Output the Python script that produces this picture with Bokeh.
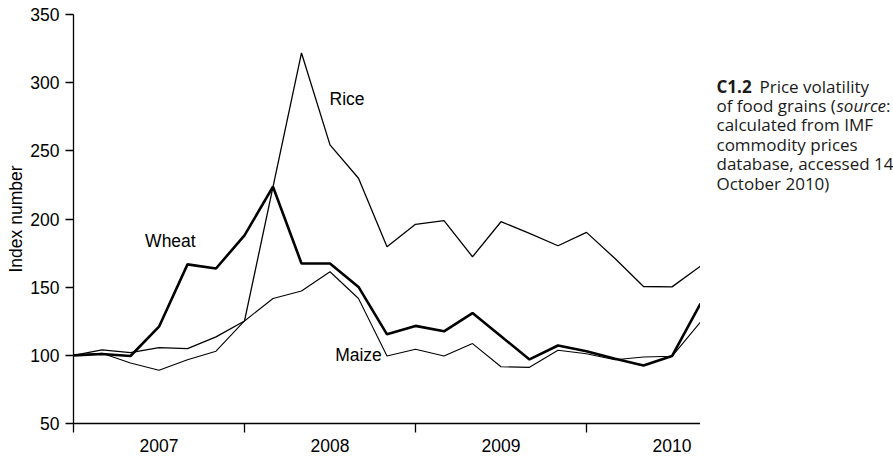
from bokeh.plotting import figure
from bokeh.layouts import row
from bokeh.models import Range1d, FixedTicker
from bokeh.embed import file_html
from bokeh.resources import INLINE
from bokeh.core.properties import value

# bi-monthly observations, months since Jan 2007
months = list(range(0, 45, 2))
wheat = [100, 101, 99.5, 121, 166.7, 163.7, 188, 223.7, 167.4, 167.4, 150.2, 115.4,
         121.6, 117.6, 131, 114, 97, 107.2, 103, 97.5, 92.5, 99.5, 138]
rice = [100, 104, 102, 105.7, 104.9, 113.5, 125.2, 223.5, 321.8, 254.4, 229.9, 179.6,
        196.1, 198.8, 172.3, 198, 189.5, 180.4, 190.2, 171, 150.5, 150.2, 165.4]
maize = [100, 101.5, 94.4, 89, 96.8, 103, 125.2, 141.7, 147.2, 161.3, 141.7, 99.5,
         104.4, 99.5, 108.6, 91.6, 91.2, 103.7, 101.2, 96.8, 98.8, 99.3, 124.5]

series_names = ["Wheat", "Rice", "Maize"]
year_bounds = [0, 12, 24, 36]
year_mid = [6, 18, 30, 42]
year_labels = ["2007", "2008", "2009", "2010"]
y_ticks = [50, 100, 150, 200, 250, 300, 350]

FONT = "Liberation Sans"
CAP_FONT = "Open Sans"
FS = "17.5px"

p = figure(width=700, height=457, output_backend="svg", toolbar_location=None,
           x_range=Range1d(0, 44), y_range=Range1d(50, 350),
           min_border_left=73, min_border_right=0, min_border_top=14,
           min_border_bottom=34, background_fill_color="white",
           border_fill_color="white", outline_line_color=None)
p.xgrid.visible = False
p.ygrid.visible = False

# lines
p.line(months, rice, line_color="black", line_width=1.3)
p.line(months, maize, line_color="black", line_width=1.1)
p.line(months, wheat, line_color="black", line_width=2.6)

# series labels
label_x = [6.8, 19.2, 20.0]
label_y = [183.5, 288, 100]
p.text(x=label_x, y=label_y, text=series_names, text_font=value(FONT),
       text_font_size=FS, text_align="center", text_baseline="middle",
       text_color="black")

# y axis
ya = p.yaxis[0]
ya.ticker = FixedTicker(ticks=y_ticks)
ya.major_tick_out = 8
ya.major_tick_in = 0
ya.minor_tick_out = 0
ya.minor_tick_in = 0
ya.axis_line_width = 1.3
ya.major_tick_line_width = 1.3
ya.major_label_text_font = FONT
ya.major_label_text_font_size = FS
ya.major_label_text_color = "black"
ya.major_label_standoff = 6
ya.axis_label = "Index number"
ya.axis_label_text_font = FONT
ya.axis_label_text_font_size = FS
ya.axis_label_text_font_style = "normal"
ya.axis_label_text_color = "black"
ya.axis_label_standoff = 1

# x axis: ticks at year boundaries, labels mid-year
xa = p.xaxis[0]
xa.ticker = FixedTicker(ticks=year_mid, minor_ticks=year_bounds)
xa.major_label_overrides = {m: lab for m, lab in zip(year_mid, year_labels)}
xa.major_tick_out = 0
xa.major_tick_in = 0
xa.minor_tick_out = 9
xa.minor_tick_in = 0
xa.minor_tick_line_width = 1.3
xa.minor_tick_line_color = "black"
xa.axis_line_width = 1.3
xa.major_label_text_font = FONT
xa.major_label_text_font_size = FS
xa.major_label_text_color = "black"
xa.major_label_standoff = 6

# caption panel (pixel coordinates, y downward)
cap = figure(width=193, height=457, output_backend="svg", toolbar_location=None,
             x_range=Range1d(0, 193), y_range=Range1d(457, 0),
             x_axis_type=None, y_axis_type=None, min_border=0,
             outline_line_color=None, background_fill_color="white",
             border_fill_color="white")
cap.xgrid.visible = False
cap.ygrid.visible = False

cap_x = 16
cap_top = 80
cap_step = 21.7
cap_fs = "17px"
cap_lines = [
    [("C1.2", "bold", 0), ("Price volatility", "normal", 43)],
    [("of food grains (", "normal", 0), ("source", "italic", 120), (":", "normal", 169.5)],
    [("calculated from IMF", "normal", 0)],
    [("commodity prices", "normal", 0)],
    [("database, accessed 14", "normal", 0)],
    [("October 2010)", "normal", 0)],
]
for i, parts in enumerate(cap_lines):
    for txt, style, dx in parts:
        cap.text(x=[cap_x + dx], y=[cap_top + i * cap_step], text=[txt],
                 text_font=value(CAP_FONT), text_font_size=cap_fs,
                 text_font_style=style, text_baseline="alphabetic",
                 text_align="left", text_color="#1a1a1a")

layout = row(p, cap)
open("out.html", "w").write(file_html(layout, INLINE))
